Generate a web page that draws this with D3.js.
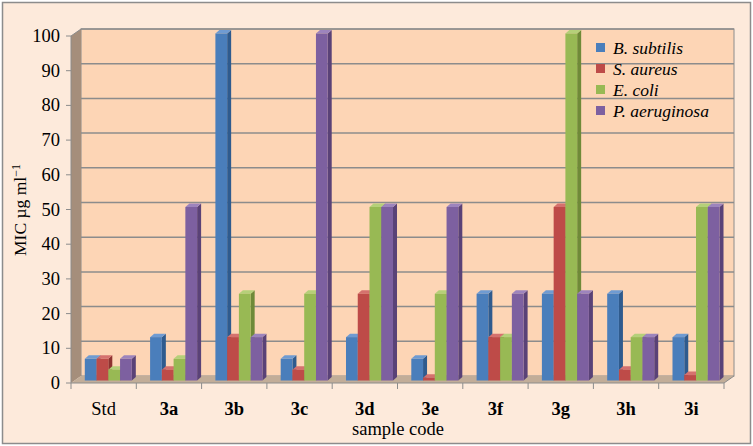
<!DOCTYPE html>
<html>
<head>
<meta charset="utf-8">
<script src="https://cdn.jsdelivr.net/npm/d3@7"></script>
<style>
  body { margin: 0; background: #fff; }
  text { font-family: "Liberation Serif", "Times New Roman", serif; fill: #000; }
</style>
</head>
<body>
<div id="chart"></div>
<script>
const categories = ["Std", "3a", "3b", "3c", "3d", "3e", "3f", "3g", "3h", "3i"];
const series = ["B. subtilis", "S. aureus", "E. coli", "P. aeruginosa"];
const bSubtilis = [6.25, 12.5, 100, 6.25, 12.5, 6.25, 25, 25, 25, 12.5];
const sAureus = [6.25, 3.125, 12.5, 3.125, 25, 0.78, 12.5, 50, 3.125, 1.56];
const eColi = [3.125, 6.25, 25, 25, 50, 25, 12.5, 100, 12.5, 50];
const pAeruginosa = [6.25, 50, 12.5, 100, 50, 50, 25, 25, 12.5, 50];
const yTicks = [0, 10, 20, 30, 40, 50, 60, 70, 80, 90, 100];

const values = [bSubtilis, sAureus, eColi, pAeruginosa];
const colors = [
  {front: "#4a7ebb", side: "#2f5b8e", top: "#6f9bd2"},
  {front: "#be4b48", side: "#8e3230", top: "#d5716e"},
  {front: "#98b954", side: "#6f8a38", top: "#b5d079"},
  {front: "#7d60a0", side: "#5a4277", top: "#9d84bd"}
];

const W = 753, H = 446;
const dx = 10, dy = -7;          // depth of the walls
const bx = 4, by = -2.5;         // bar front offset from the front plane
const bdx = 4, bdy = -3.5;       // bar depth

const svg = d3.select("#chart").append("svg")
    .attr("width", W)
    .attr("height", H);

svg.append("rect")
    .attr("x", 2.5).attr("y", 2.5)
    .attr("width", 748).attr("height", 441)
    .attr("fill", "#fdeadb")
    .attr("stroke", "#8c8c8c")
    .attr("stroke-width", 1.5);

const x = d3.scaleBand()
    .domain(categories)
    .range([71, 724]);

const xs = d3.scaleBand()
    .domain(series)
    .range([0.15 * x.bandwidth(), 0.87 * x.bandwidth()]);

const y = d3.scaleLinear()
    .domain([0, 100])
    .range([383, 36]);

const x0 = 71, x1 = 724, yb = y(0), yt = y(100);

// back wall
svg.append("rect")
    .attr("x", x0 + dx).attr("y", yt + dy)
    .attr("width", x1 - x0).attr("height", yb - yt)
    .attr("fill", "#fdd5b5")
    .attr("stroke", "#8c8c8c")
    .attr("stroke-width", 1);

// left side wall
svg.append("path")
    .attr("d", `M${x0},${yt}L${x0 + dx},${yt + dy}L${x0 + dx},${yb + dy}L${x0},${yb}Z`)
    .attr("fill", "#a58e7b");

// floor
svg.append("path")
    .attr("d", `M${x0},${yb}L${x0 + dx},${yb + dy}L${x1 + dx},${yb + dy}L${x1},${yb}Z`)
    .attr("fill", "#c2ad98");

// gridlines on the back wall
svg.selectAll(".grid").data(yTicks.filter(d => d > 0)).enter()
    .append("line")
    .attr("class", "grid")
    .attr("x1", x0 + dx).attr("x2", x1 + dx)
    .attr("y1", d => y(d) + dy).attr("y2", d => y(d) + dy)
    .attr("stroke", "#8c8c8c")
    .attr("stroke-width", 1.5);

// top edge of the side wall
svg.append("line")
    .attr("x1", x0).attr("y1", yt)
    .attr("x2", x0 + dx).attr("y2", yt + dy)
    .attr("stroke", "#8c8c8c");

// y axis
svg.append("line")
    .attr("x1", x0).attr("x2", x0)
    .attr("y1", yt).attr("y2", yb)
    .attr("stroke", "#8c8c8c");

svg.selectAll(".ytick").data(yTicks).enter()
    .append("line")
    .attr("x1", x0 - 5).attr("x2", x0)
    .attr("y1", d => y(d)).attr("y2", d => y(d))
    .attr("stroke", "#8c8c8c");

svg.selectAll(".ylab").data(yTicks).enter()
    .append("text")
    .attr("x", 60)
    .attr("y", d => y(d) + 6)
    .attr("text-anchor", "end")
    .style("font-size", "18.5px")
    .text(d => d);

// x axis
svg.append("line")
    .attr("x1", x0).attr("x2", x1)
    .attr("y1", yb).attr("y2", yb)
    .attr("stroke", "#8c8c8c");

svg.append("line")
    .attr("x1", x1).attr("x2", x1 + dx)
    .attr("y1", yb).attr("y2", yb + dy)
    .attr("stroke", "#8c8c8c");

svg.selectAll(".xtick").data(categories.concat(["end"])).enter()
    .append("line")
    .attr("x1", d => d === "end" ? x1 : x(d))
    .attr("x2", d => d === "end" ? x1 : x(d))
    .attr("y1", yb).attr("y2", yb + 6)
    .attr("stroke", "#8c8c8c");

svg.selectAll(".xlab").data(categories).enter()
    .append("text")
    .attr("x", d => x(d) + x.bandwidth() / 2)
    .attr("y", 415)
    .attr("text-anchor", "middle")
    .style("font-size", "18.5px")
    .style("font-weight", d => d === "Std" ? "normal" : "bold")
    .text(d => d);

svg.append("text")
    .attr("x", 398)
    .attr("y", 435)
    .attr("text-anchor", "middle")
    .style("font-size", "18.5px")
    .text("sample code");

const yTitle = svg.append("text")
    .attr("transform", "translate(26,210) rotate(-90)")
    .attr("text-anchor", "middle")
    .style("font-size", "17.5px");
yTitle.append("tspan").text("MIC µg ml");
yTitle.append("tspan").attr("dy", -6).style("font-size", "12px").text("−1");

// bars
const bars = [];
categories.forEach((c, i) => {
  series.forEach((s, j) => {
    bars.push({cat: c, ser: s, j: j, v: values[j][i]});
  });
});

const bw = xs.bandwidth();
const g = svg.selectAll(".bar").data(bars).enter().append("g");

g.append("path")
    .attr("d", d => {
      const l = x(d.cat) + xs(d.ser) + bx + bw, t = y(d.v) + by, b = yb + by;
      return `M${l},${t}L${l + bdx},${t + bdy}L${l + bdx},${b + bdy}L${l},${b}Z`;
    })
    .attr("fill", d => colors[d.j].side);

g.append("path")
    .attr("d", d => {
      const l = x(d.cat) + xs(d.ser) + bx, t = y(d.v) + by;
      return `M${l},${t}L${l + bdx},${t + bdy}L${l + bw + bdx},${t + bdy}L${l + bw},${t}Z`;
    })
    .attr("fill", d => colors[d.j].top);

g.append("rect")
    .attr("x", d => x(d.cat) + xs(d.ser) + bx)
    .attr("y", d => y(d.v) + by)
    .attr("width", bw)
    .attr("height", d => yb - y(d.v))
    .attr("fill", d => colors[d.j].front);

// legend
const leg = svg.selectAll(".leg").data(series).enter()
    .append("g")
    .attr("transform", (d, i) => `translate(596,${43 + i * 21})`);

leg.append("rect")
    .attr("width", 9).attr("height", 9)
    .attr("fill", (d, i) => colors[i].front);

leg.append("text")
    .attr("x", 17).attr("y", 11)
    .style("font-size", "17.5px")
    .style("font-style", "italic")
    .text(d => d);
</script>
</body>
</html>
